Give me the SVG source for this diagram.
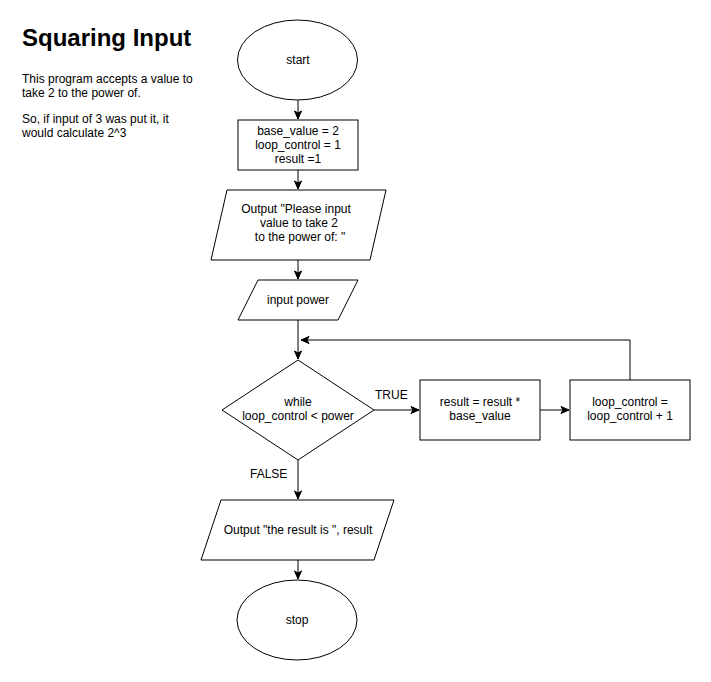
<svg xmlns="http://www.w3.org/2000/svg" width="711" height="682" viewBox="0 0 711 682">
<style>
  .shape { fill: #ffffff; stroke: #000000; stroke-width: 1; }
  .edge { fill: none; stroke: #000000; stroke-width: 1; }
  text { font-family: "Liberation Sans", Arial, sans-serif; font-size: 12px; fill: #000000; }
  .c { text-anchor: middle; }
  .title { font-size: 24px; font-weight: bold; }
</style>
<defs>
  <marker id="arrow" markerUnits="userSpaceOnUse" markerWidth="10" markerHeight="10" viewBox="0 0 10 10" refX="9" refY="5" orient="auto">
    <path d="M1,1.5 L9,5 L1,8.5 L3,5 Z" fill="#000000" stroke="#000000" stroke-width="1"/>
  </marker>
</defs>
<rect width="711" height="682" fill="#ffffff"/>

<g id="description">
  <text class="title" x="22" y="46">Squaring Input</text>
  <text x="22" y="83">This program accepts a value to</text>
  <text x="22" y="97">take 2 to the power of.</text>
  <text x="22" y="123">So, if input of 3 was put it, it</text>
  <text x="22" y="137">would calculate 2^3</text>
</g>

<g id="connectors">
  <path class="edge" d="M298,100 L298,119" marker-end="url(#arrow)"/>
  <path class="edge" d="M298,170 L298,189" marker-end="url(#arrow)"/>
  <path class="edge" d="M298,260 L298,279" marker-end="url(#arrow)"/>
  <path class="edge" d="M298,320 L298,359" marker-end="url(#arrow)"/>
  <path class="edge" d="M374,410 L419,410" marker-end="url(#arrow)"/>
  <path class="edge" d="M540,410 L569,410" marker-end="url(#arrow)"/>
  <path class="edge" d="M630,380 L630,340 L301,340" marker-end="url(#arrow)"/>
  <path class="edge" d="M298,460 L298,499" marker-end="url(#arrow)"/>
  <path class="edge" d="M298,560 L298,579" marker-end="url(#arrow)"/>
  <text x="375" y="399">TRUE</text>
  <text x="250" y="478">FALSE</text>
</g>

<g id="start">
  <ellipse class="shape" cx="297.5" cy="60" rx="60" ry="40"/>
  <text class="c" x="298" y="64">start</text>
</g>

<g id="init">
  <rect class="shape" x="238" y="120" width="120" height="50"/>
  <text class="c" x="298" y="135">base_value = 2</text>
  <text class="c" x="298" y="149">loop_control = 1</text>
  <text class="c" x="298" y="163">result =1</text>
</g>

<g id="prompt">
  <polygon class="shape" points="227,190 386,190 370,260 211,260"/>
  <text class="c" x="296" y="213">Output "Please input</text>
  <text class="c" x="299" y="227">value to take 2</text>
  <text class="c" x="300" y="241">to the power of: "</text>
</g>

<g id="input">
  <polygon class="shape" points="258,280 358,280 338,320 238,320"/>
  <text class="c" x="298" y="304">input power</text>
</g>

<g id="condition">
  <polygon class="shape" points="298,360 374,410 298,460 222,410"/>
  <text class="c" x="298" y="406">while</text>
  <text class="c" x="298" y="420">loop_control &lt; power</text>
</g>

<g id="multiply">
  <rect class="shape" x="420" y="380" width="120" height="60"/>
  <text class="c" x="480" y="406">result = result *</text>
  <text class="c" x="480" y="420">base_value</text>
</g>

<g id="increment">
  <rect class="shape" x="570" y="380" width="120" height="60"/>
  <text class="c" x="630" y="406">loop_control =</text>
  <text class="c" x="630" y="420">loop_control + 1</text>
</g>

<g id="output">
  <polygon class="shape" points="221,500 394,500 374,560 201,560"/>
  <text class="c" x="298" y="534">Output "the result is ", result</text>
</g>

<g id="stop">
  <ellipse class="shape" cx="297" cy="620" rx="60" ry="40"/>
  <text class="c" x="297" y="624">stop</text>
</g>
</svg>
